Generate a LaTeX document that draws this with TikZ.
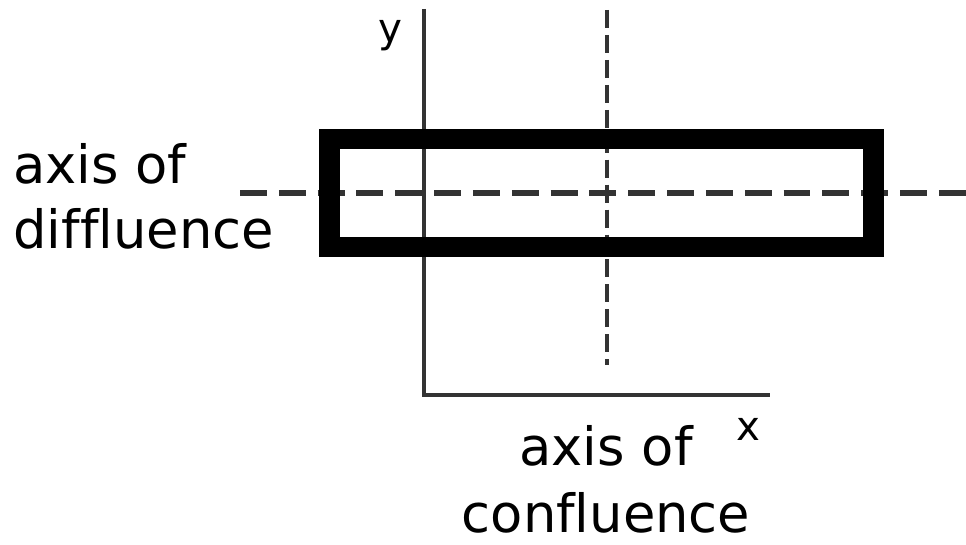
\documentclass[tikz,border=0pt]{standalone}
\usepackage{fontspec}
\setmainfont{DejaVu Sans}[Ligatures={NoCommon}]
\begin{document}
\begin{tikzpicture}[x=0.02cm,y=-0.02cm,
    axisline/.style={line width=2.5pt,black!80,line join=miter},
    bigtext/.style={inner sep=0pt,font=\fontsize{30}{37.5}\selectfont},
    smalltext/.style={inner sep=0pt,font=\fontsize{23}{28}\selectfont}]
        \useasboundingbox (0,0) rectangle (966,544);
        \coordinate (origin) at (424,395);
        \draw[axisline] (424,9) -- (origin) -- (770,395);
        \draw[line width=2.3pt,black!80,dash pattern=on 10.2pt off 4pt] (607,10) -- (607,365);
        \draw[line width=3.4pt,black!80,dash pattern=on 15.3pt off 6.8pt] (240,193) -- (966,193);
        \draw[line width=11.5pt] (329.5,139) rectangle (873.5,247);
        \node[smalltext,anchor=base] (ylabel) at (390,43) {y};
        \node[smalltext,anchor=base] (xlabel) at (748,440) {x};
        \node[bigtext,anchor=base west] (diff1) at (13,183) {axis of};
        \node[bigtext,anchor=base west] (diff2) at (13,248) {diffluence};
        \node[bigtext,anchor=base] (conf1) at (606,465) {axis of};
        \node[bigtext,anchor=base] (conf2) at (606,532) {confluence};
    \end{tikzpicture}
\end{document}
